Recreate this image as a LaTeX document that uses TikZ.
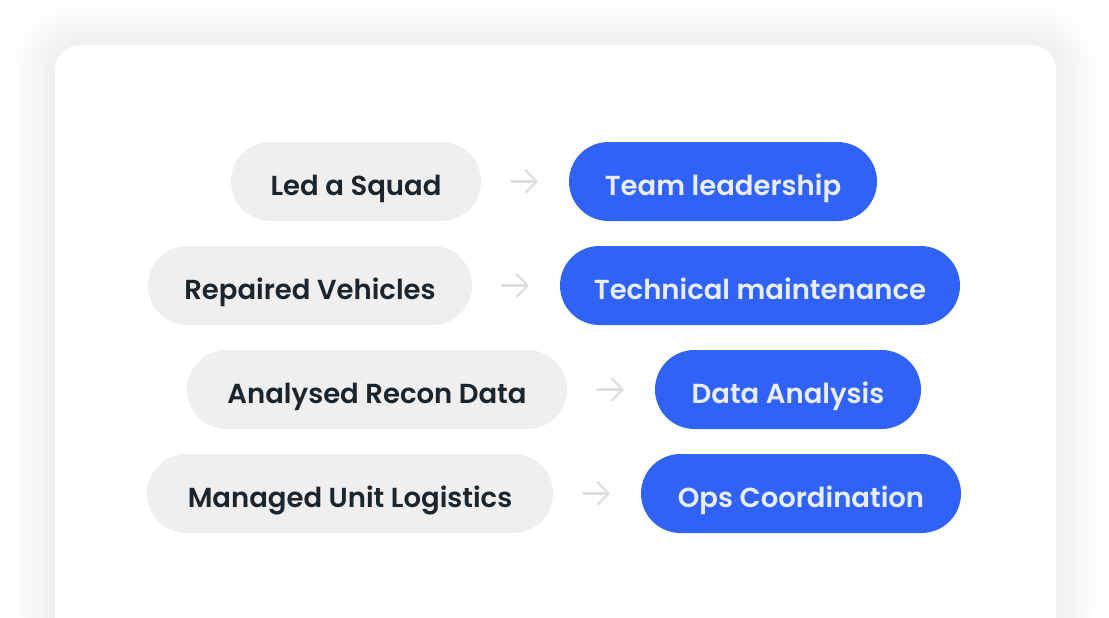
\documentclass[tikz,border=0pt]{standalone}
\usepackage{fontspec}
\setmainfont{Poppins}[UprightFont=* SemiBold]
\definecolor{pillgray}{HTML}{EFEFEF}
\definecolor{pillblue}{HTML}{2F62F5}
\definecolor{inkdark}{HTML}{1B252B}
\definecolor{inklight}{HTML}{E8EEFF}
\definecolor{arrowgray}{HTML}{DEDEDE}
\usetikzlibrary{arrows.meta}
\tikzset{
  pillbase/.style={rectangle, rounded corners=39.5pt, minimum height=79pt, inner sep=0pt, text height=27pt, text depth=0pt, font=\fontsize{27.5}{32}\selectfont},
  graypill/.style={pillbase, fill=pillgray, text=inkdark},
  bluepill/.style={pillbase, fill=pillblue, text=inklight},
  maparrow/.style={draw=arrowgray, line width=2.2pt, line cap=round, -{Straight Barb[length=11pt,width=22pt,round]}, shorten <=30pt, shorten >=31pt}
}
\begin{document}
\begin{tikzpicture}[x=1pt,y=-1pt]
\useasboundingbox (0,0) rectangle (1109,618);
\fill[white] (0,0) rectangle (1109,618);
% card shadow
\foreach \i in {2,5,...,44} {
  \fill[black, fill opacity=0.0028, rounded corners={25pt+\i pt}] (55-\i,45-\i) rectangle (1056+\i,660);
}
\fill[white, rounded corners=25pt] (55,45) rectangle (1056,680);
% row 1
\node[graypill, minimum width=250pt] (g1) at (356,181.5) {Led a Squad};
\node[bluepill, minimum width=308pt] (b1) at (723,181.5) {Team leadership};
% row 2
\node[graypill, minimum width=324pt] (g2) at (310,285.5) {Repaired Vehicles};
\node[bluepill, minimum width=400pt] (b2) at (760,285.5) {Technical maintenance};
% row 3
\node[graypill, minimum width=380pt] (g3) at (377,389.5) {Analysed Recon Data};
\node[bluepill, minimum width=266pt] (b3) at (788,389.5) {Data Analysis};
% row 4
\node[graypill, minimum width=406pt] (g4) at (350,493.5) {Managed Unit Logistics};
\node[bluepill, minimum width=320pt] (b4) at (801,493.5) {Ops Coordination};
% arrows
\draw[maparrow] (g1) -- (b1);
\draw[maparrow] (g2) -- (b2);
\draw[maparrow] (g3) -- (b3);
\draw[maparrow] (g4) -- (b4);
\end{tikzpicture}
\end{document}
